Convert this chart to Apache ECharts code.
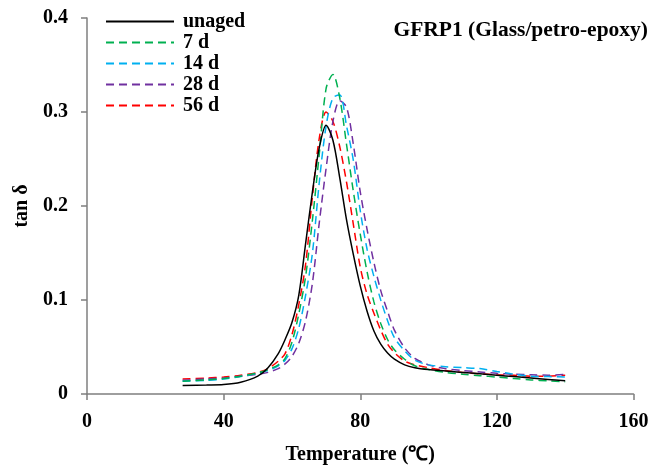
<!DOCTYPE html>
<html>
<head>
<meta charset="utf-8">
<script src="https://cdn.jsdelivr.net/npm/echarts@6/dist/echarts.min.js"></script>
<style>html,body{margin:0;padding:0;background:#fff;}#c{width:669px;height:470px;}</style>
</head>
<body>
<div id="c"></div>
<script>
const temps   = [28, 35, 40, 45, 50, 53, 56, 58, 60, 62, 64, 66, 68, 70, 72, 74, 76, 78, 80, 82, 84, 86, 88, 90, 93, 96, 100, 105, 110, 115, 120, 125, 130, 135, 140];
const unaged  = [0.009, 0.0095, 0.010, 0.0125, 0.019, 0.028, 0.043, 0.058, 0.076, 0.105, 0.160, 0.215, 0.262, 0.286, 0.270, 0.230, 0.185, 0.148, 0.115, 0.088, 0.067, 0.053, 0.0435, 0.037, 0.031, 0.028, 0.026, 0.0245, 0.023, 0.0215, 0.020, 0.0185, 0.017, 0.0155, 0.014];
const d7      = [0.0135, 0.015, 0.0165, 0.019, 0.0225, 0.026, 0.031, 0.038, 0.055, 0.085, 0.125, 0.185, 0.255, 0.325, 0.340, 0.315, 0.265, 0.215, 0.170, 0.130, 0.098, 0.075, 0.058, 0.047, 0.037, 0.030, 0.026, 0.023, 0.021, 0.0195, 0.018, 0.0165, 0.015, 0.014, 0.013];
const d14     = [0.0135, 0.0145, 0.016, 0.0185, 0.022, 0.025, 0.030, 0.036, 0.048, 0.070, 0.105, 0.150, 0.225, 0.285, 0.315, 0.318, 0.285, 0.248, 0.195, 0.154, 0.125, 0.100, 0.078, 0.060, 0.046, 0.036, 0.031, 0.029, 0.028, 0.027, 0.024, 0.021, 0.019, 0.0185, 0.018];
const d28     = [0.0145, 0.016, 0.017, 0.019, 0.021, 0.023, 0.027, 0.032, 0.040, 0.054, 0.078, 0.118, 0.182, 0.240, 0.290, 0.312, 0.305, 0.265, 0.215, 0.175, 0.140, 0.110, 0.088, 0.068, 0.049, 0.038, 0.031, 0.027, 0.025, 0.0235, 0.022, 0.021, 0.0205, 0.020, 0.021];
const d56     = [0.016, 0.017, 0.018, 0.020, 0.023, 0.027, 0.035, 0.043, 0.063, 0.095, 0.138, 0.210, 0.272, 0.300, 0.290, 0.263, 0.225, 0.180, 0.135, 0.106, 0.086, 0.068, 0.053, 0.044, 0.035, 0.031, 0.028, 0.025, 0.023, 0.0215, 0.0205, 0.020, 0.019, 0.019, 0.020];
const seriesNames = ['unaged', '7 d', '14 d', '28 d', '56 d'];
const seriesColors = ['#000000', '#00b050', '#00b0f0', '#7030a0', '#ff0000'];
const xTicks = [0, 40, 80, 120, 160];
const yTicks = [0, 0.1, 0.2, 0.3, 0.4];

const font = "'Liberation Serif', 'Times New Roman', serif";
const allData = [unaged, d7, d14, d28, d56];
const series = allData.map((arr, i) => ({
  name: seriesNames[i],
  type: 'line',
  data: temps.map((t, j) => [t, arr[j]]),
  symbol: 'none',
  showSymbol: false,
  smooth: 0.3,
  lineStyle: { color: seriesColors[i], width: 1.5, type: i === 0 ? 'solid' : [8, 5] },
  itemStyle: { color: seriesColors[i] },
  z: 10 - i
}));

const chart = echarts.init(document.getElementById('c'), null, { renderer: 'canvas' });
chart.setOption({
  animation: false,
  backgroundColor: '#fff',
  title: {
    text: 'GFRP1 (Glass/petro-epoxy)',
    right: 16, top: 14,
    textStyle: { fontFamily: font, fontWeight: 'bold', fontSize: 21.5, color: '#000' }
  },
  legend: {
    orient: 'vertical',
    left: 100, top: 6,
    itemWidth: 68, itemHeight: 14, itemGap: 0,
    data: seriesNames,
    itemStyle: { opacity: 0 },
    textStyle: { fontFamily: font, fontWeight: 'bold', fontSize: 20, color: '#000', lineHeight: 21, padding: [0, 0, 0, 4] }
  },
  grid: { left: 87, right: 35.5, top: 18, bottom: 74, containLabel: false },
  xAxis: {
    type: 'value', min: xTicks[0], max: xTicks[xTicks.length - 1], interval: 40,
    name: 'Temperature (℃)', nameLocation: 'middle', nameGap: 51,
    nameTextStyle: { fontFamily: font, fontWeight: 'bold', fontSize: 20, color: '#000' },
    axisLine: { lineStyle: { color: '#7f7f7f', width: 1.5 } },
    axisTick: { show: true, inside: false, length: 6, lineStyle: { color: '#7f7f7f', width: 1.5 } },
    axisLabel: { fontFamily: font, fontWeight: 'bold', fontSize: 20, color: '#000', margin: 18 },
    splitLine: { show: false }
  },
  yAxis: {
    type: 'value', min: yTicks[0], max: yTicks[yTicks.length - 1], interval: 0.1,
    name: 'tan δ', nameLocation: 'middle', nameGap: 49, nameRotate: 90,
    nameTextStyle: { fontFamily: font, fontWeight: 'bold', fontSize: 20, color: '#000' },
    axisLine: { show: true, lineStyle: { color: '#7f7f7f', width: 1.5 } },
    axisTick: { show: true, inside: false, length: 6, lineStyle: { color: '#7f7f7f', width: 1.5 } },
    axisLabel: { fontFamily: font, fontWeight: 'bold', fontSize: 20, color: '#000', margin: 19 },
    splitLine: { show: false }
  },
  series: series
});
</script>
</body>
</html>
